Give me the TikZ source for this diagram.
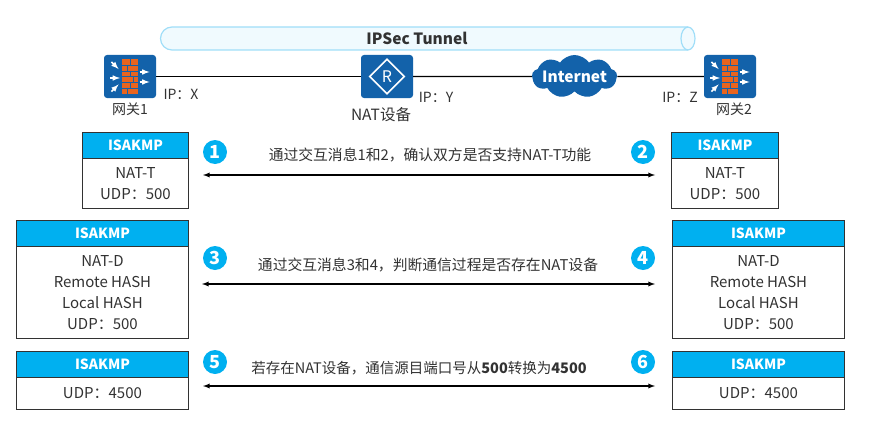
\documentclass[tikz,border=0pt]{standalone}
\usepackage{fontspec}
\setmainfont{Noto Sans CJK SC}
\usepackage{xcolor}
\usetikzlibrary{arrows, math}
\usetikzlibrary{shapes.geometric, shapes.symbols}
\definecolor{qblue}{RGB}{19,98,170}
\definecolor{qcyan}{RGB}{0,176,240}
\definecolor{qbrick}{RGB}{232,100,30}
\definecolor{qtube}{RGB}{240,250,254}
\definecolor{qtubeline}{RGB}{160,222,248}
\definecolor{qtext}{RGB}{50,50,50}
\tikzset{
  lbl/.style={font=\fontsize{14}{16}\selectfont, text=qtext, inner sep=0pt},
  msg/.style={font=\fontsize{14.8}{17}\selectfont, text=qtext, inner sep=0pt},
  hdr/.style={draw=qtext, line width=0.9pt, fill=qcyan, text=white, inner sep=0pt, font=\fontsize{14}{16}\selectfont\bfseries},
  bodybox/.style={draw=qtext, line width=0.9pt, fill=white, inner sep=0pt, text=qtext, align=center, font=\fontsize{15}{20.8}\selectfont},
  num/.style={circle, fill=qcyan, text=white, minimum size=24pt, inner sep=0pt, font=\fontsize{18}{18}\selectfont\bfseries},
  link/.style={draw=black, line width=1.3pt},
  dbl/.style={latex-latex, draw=black, line width=1.3pt},
  devbox/.style={fill=qblue, rounded corners=3pt, minimum width=52pt, minimum height=43pt, inner sep=0pt},
  pics/firewall/.style={code={
    \fill[qbrick] (-8,-17) rectangle (8,17);
    \foreach \y in {-11.4,-5.7,0,5.7,11.4} \draw[qblue, line width=0.6pt] (-8,\y) -- (8,\y);
    \foreach \x/\y in {0/-14.2,0/-3,0/8.5,-3/-8.5,3/3,-3/14.2} \draw[qblue, line width=0.6pt] (\x,\y-2.8) -- (\x,\y+2.8);
    \foreach \x/\y/\a in {-15/-11/-45,-15/1.5/0,-15/11.5/45,14.5/-4.5/0,14.5/5.5/0}
      \draw[-latex, white, line width=1.5pt, rotate around={\a:(\x,\y)}] (\x-5,\y) -- (\x+5,\y);
  }}
}

\begin{document}
\begin{tikzpicture}[x=1pt,y=-1pt]

\useasboundingbox (0,0) rectangle (869,420);

\tikzmath{
\hh = 26; %header height
}

%tunnel
\filldraw[fill=qtube, draw=qtubeline, line width=1.2pt] (172,27) -- (688,27) arc (90:-90:7pt and 11.5pt) -- (172,50) arc (270:90:11.5pt) -- cycle;
\draw[qtubeline, line width=1.2pt] (688,27) arc (90:270:7pt and 11.5pt);
\node[inner sep=0pt, font=\fontsize{15.5}{17}\selectfont\bfseries, text=qtext] (tunnel) at (417,38) {IPSec Tunnel};

%devices
\node[devbox] (gw1) at (130,76.5) {};
\node[devbox] (gw2) at (730,76.5) {};
\pic at (gw1) {firewall};
\pic at (gw2) {firewall};
\node[devbox] (nat) at (387,76.5) {};
\node[draw=white, line width=1.6pt, diamond, minimum width=35pt, minimum height=35pt, inner sep=0pt, text=white, font=\fontsize{16}{16}\selectfont] (natr) at (nat) {R};
\node[cloud, cloud puffs=9, cloud puff arc=110, aspect=2, fill=qblue, inner sep=0pt, minimum width=85pt, minimum height=43pt] (inet) at (574.5,76.5) {};
\node[text=white, inner sep=0pt, font=\fontsize{15.5}{17}\selectfont\bfseries] (inettxt) at (inet) {Internet};

\draw[link] (gw1) -- (nat);
\draw[link] (nat) -- (inet);
\draw[link] (inet) -- (gw2);

\node[lbl] (gw1lbl) at (130,109) {网关1};
\node[lbl] (gw2lbl) at (734,109) {网关2};
\node[lbl, font=\fontsize{15.5}{17}\selectfont] (natlbl) at (381,115) {NAT设备};
\node[lbl] (ipx) at (181,94) {IP：X};
\node[lbl] (ipy) at (436,97) {IP：Y};
\node[lbl] (ipz) at (680,97) {IP：Z};

%boxes
\foreach \name/\xa/\xb/\ya/\yb/\txt in {
  a/82/188/132/208/{NAT-T\\UDP：500},
  b/671/778/132/208/{NAT-T\\UDP：500},
  c/16/188/220/338/{NAT-D\\Remote HASH\\Local HASH\\UDP：500},
  d/672/844/220/338/{NAT-D\\Remote HASH\\Local HASH\\UDP：500},
  e/16/188/351/409/{UDP：4500},
  f/672/844/351/409/{UDP：4500}}{
  \node[bodybox, minimum width={\xb-\xa}, minimum height={\yb-\ya-\hh}, anchor=north west] (body\name) at (\xa,\ya+\hh) {\txt};
  \node[hdr, minimum width={\xb-\xa}, minimum height=\hh, anchor=north west] (head\name) at (\xa,\ya) {ISAKMP};
}

%steps
\node[num] (n1) at (215,152) {1};
\node[num] (n2) at (643,152) {2};
\node[num] (n3) at (215,258) {3};
\node[num] (n4) at (643,258) {4};
\node[num] (n5) at (215,362) {5};
\node[num] (n6) at (643,362) {6};

\node[msg] (m1) at (430,155) {通过交互消息1和2，确认双方是否支持NAT-T功能};
\node[msg] (m2) at (428,265) {通过交互消息3和4，判断通信过程是否存在NAT设备};
\node[msg, font=\fontsize{14.5}{17}\selectfont] (m3) at (419,368) {若存在NAT设备，通信源目端口号从\textbf{500}转换为\textbf{4500}};

\coordinate (a1l) at (203,175);
\coordinate (a1r) at (655,175);
\coordinate (a2l) at (202,284);
\coordinate (a2r) at (655,284);
\coordinate (a3l) at (203,386);
\coordinate (a3r) at (655,386);
\draw[dbl] (a1l) -- (a1r);
\draw[dbl] (a2l) -- (a2r);
\draw[dbl] (a3l) -- (a3r);

\end{tikzpicture}
\end{document}
